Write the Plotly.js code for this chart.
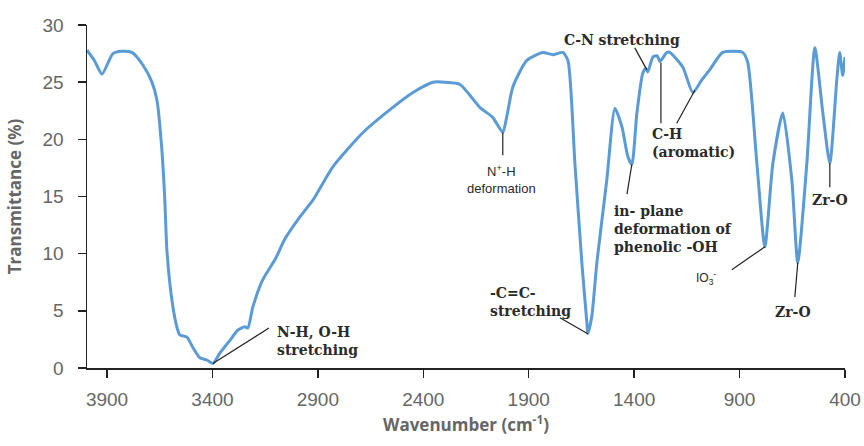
<!DOCTYPE html>
<html>
<head>
<meta charset="utf-8">
<script src="https://cdn.plot.ly/plotly-3.0.1.min.js"></script>
<style>html,body{margin:0;padding:0;background:#fff;}#chart{width:864px;height:446px;}</style>
</head>
<body>
<div id="chart"></div>
<script>
// FTIR spectrum
const wavenumber = [3995,3960,3924,3872,3830,3782,3730,3687,3663,3640,3626,3616,3592,3569,3555,3521,3493,3460,3427,3398,3365,3318,3280,3247,3232,3209,3162,3100,3056,2986,2923,2829,2686,2558,2449,2354,2300,2226,2132,2070,2023,2004,1975,1909,1833,1786,1738,1714,1681,1648,1624,1620,1601,1577,1530,1491,1458,1430,1411,1387,1359,1345,1335,1311,1290,1278,1245,1231,1169,1122,1079,1041,980,885,861,818,780,742,695,652,624,581,543,505,472,439,425,411,400];
const transmittance = [27.8,26.9,25.7,27.5,27.7,27.6,26.5,25.0,23.4,19.1,14.7,10.3,5.9,3.6,2.9,2.7,1.8,0.9,0.7,0.4,1.3,2.4,3.3,3.6,3.5,5.3,7.7,9.6,11.3,13.2,14.7,17.6,20.6,22.6,24.1,25.0,25.0,24.8,22.8,21.9,20.6,22.0,24.6,26.9,27.6,27.4,27.6,26.9,17.9,9.2,3.9,3.0,4.5,9.2,16.4,22.7,21.1,18.5,17.8,22.3,25.8,26.2,25.9,27.2,27.3,26.8,27.6,27.6,26.3,24.1,25.2,26.1,27.6,27.6,26.7,17.9,10.6,17.9,22.3,16.4,9.2,17.9,28.0,22.3,17.9,25.2,27.6,25.6,27.2];
const xTicks = [3900,3400,2900,2400,1900,1400,900,400];
const yTicks = [0,5,10,15,20,25,30];

// Band labels: text, text position, alignment, font family key
const labelText = ["N-H, O-H<br>stretching","-C=C-<br>stretching","N<sup>+</sup>-H<br>deformation","C-N stretching","C-H<br>(aromatic)","in- plane<br>deformation of<br>phenolic -OH","IO<sub>3</sub><sup>-</sup>","Zr-O","Zr-O"];
const labelX = [3104,2094,2027,1458,1325,1506,1058,645,472];
const labelY = [2.4,5.8,16.5,28.7,19.7,12.2,7.9,4.9,14.7];
const labelAlign = ["left","left","center","center","left","left","center","center","center"];
const labelSans = [false,false,true,false,false,false,true,false,false];
const labelSize = [14,14,13,14,14,14,12,14,14];
// Leader lines: from (x0,y0) to (x1,y1)
const leadX0 = [3398,1620,2023,1340,1273,1112,1411,780,624,472];
const leadY0 = [0.4,3.0,20.6,26.1,26.7,24.3,17.8,10.6,9.2,17.9];
const leadX1 = [3132,1752,2023,1397,1273,1198,1434,937,638,472];
const leadY1 = [3.5,4.4,18.6,28.0,21.4,21.4,15.2,8.6,6.2,15.8];

const serif = "DejaVu Serif, Liberation Serif, serif";
const sans = "Liberation Sans, Arial, sans-serif";

const annotations = labelText.map((t,i)=>({
  x: labelX[i], y: labelY[i], xref:'x', yref:'y', text: t, showarrow:false,
  xanchor: labelAlign[i], yanchor:'middle', align: labelAlign[i],
  font: labelSans[i] ? {family: sans, size: labelSize[i], color:'#2a2a2a'} : {family: serif, size: labelSize[i], color:'#2a2a2a', weight:'bold'}
}));
const shapes = leadX0.map((x0,i)=>({
  type:'line', xref:'x', yref:'y', x0:x0, y0:leadY0[i], x1:leadX1[i], y1:leadY1[i],
  line:{color:'#222', width:1.2}
}));

const trace = {
  x: wavenumber, y: transmittance, type:'scatter', mode:'lines',
  line:{color:'#5b9bd5', width:3, shape:'spline', smoothing:0.6}, hoverinfo:'skip'
};

const layout = {
  width:864, height:446,
  margin:{l:87, r:19, t:25, b:78},
  paper_bgcolor:'#fff', plot_bgcolor:'#fff',
  showlegend:false,
  xaxis:{
    range:[3995,400], tickvals:xTicks, ticktext:xTicks.map(String),
    showgrid:false, zeroline:false, showline:true, linecolor:'#222', linewidth:1.5,
    ticks:'outside', ticklen:8, tickcolor:'#222', tickwidth:1.5,
    tickfont:{family:'Liberation Sans Narrow, Liberation Sans, sans-serif', size:19, color:'#666'},
    ticklabelstandoff:6,
    title:{text:'Wavenumber (cm<sup>-1</sup>)', font:{family:'Open Sans, sans-serif', size:17, color:'#666', weight:'bold'}, standoff:10}
  },
  yaxis:{
    range:[0,30], tickvals:yTicks, showgrid:false, zeroline:false, showline:true, linecolor:'#222', linewidth:1.5,
    ticks:'outside', ticklen:8, tickcolor:'#222', tickwidth:1.5,
    tickfont:{family:'Liberation Sans Narrow, Liberation Sans, sans-serif', size:19, color:'#666'},
    ticklabelstandoff:10,
    title:{text:'Transmittance (%)', font:{family:'Open Sans, sans-serif', size:17, color:'#666', weight:'bold'}, standoff:16}
  },
  annotations: annotations,
  shapes: shapes
};

Plotly.newPlot('chart',[trace],layout,{staticPlot:true, displayModeBar:false});
</script>
</body>
</html>
